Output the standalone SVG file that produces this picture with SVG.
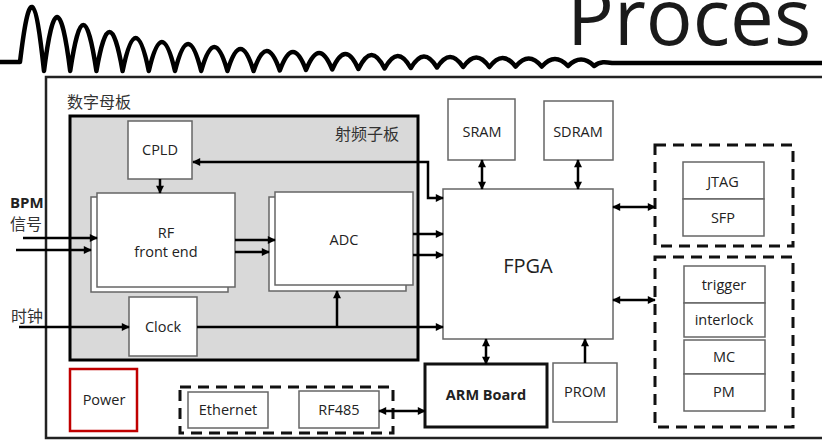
<svg xmlns="http://www.w3.org/2000/svg" width="822" height="440" viewBox="0 0 822 440">
<style>
.box{fill:#fff;stroke:#666;stroke-width:1.5}
.t{font-family:"Open Sans","Liberation Sans",sans-serif;font-size:14.5px;fill:#222;text-anchor:middle}
.b{font-weight:bold}
.cn{font-family:"Noto Sans CJK SC","Noto Sans",sans-serif;font-size:16px;fill:#333}
.dash{fill:none;stroke:#111;stroke-width:3;stroke-dasharray:11 7}
.c{fill:none;stroke:#000;stroke-width:2.5}
</style>
<defs>
<marker id="ah" viewBox="0 0 10 10" refX="9" refY="5" markerWidth="9" markerHeight="8" markerUnits="userSpaceOnUse" orient="auto-start-reverse"><path d="M0,0 L10,5 L0,10 z" fill="#000"/></marker>
</defs>
<rect width="822" height="440" fill="#fff"/>
<g id="header">
<text x="567" y="45" style="font-family:'Open Sans','Liberation Sans',sans-serif;font-size:78px;fill:#1a1a1a">Proces</text>
<path d="M0,62 L20,62 C29,-12.8 35,-12.8 44,71 C53.1,-1 61.1,-1 70.2,71 C79.3,9.7 87.3,9.7 96.4,71 C105.5,19 113.5,19 122.6,71 C131.7,27 139.7,27 148.8,71 C157.9,32.3 165.9,32.3 175,71 C184.1,35 192.1,35 201.2,71 C210.3,39 218.3,39 227.4,71 C236.5,41.7 244.5,41.7 253.6,71 C262.7,44.4 270.7,44.4 279.8,70.5 C288.9,45.9 296.9,45.9 306,70 C315.1,47.4 323.1,47.4 332.2,69.5 C341.3,48.9 349.3,48.9 358.4,69 C367.5,50.4 375.5,50.4 384.6,68.5 C393.7,51.9 401.7,51.9 410.8,68 C419.9,52.7 427.9,52.7 437,67.5 C446.1,53.6 454.1,53.6 463.2,67 C472.3,54.3 480.3,54.3 489.4,67 C498.5,55.1 506.5,55.1 515.6,66.5 C524.7,55.8 532.7,55.8 541.8,66.5 C550.9,56.6 558.9,56.6 568,66 C577.1,57.3 585.1,57.3 594.2,66 C600,61 606,62 612,63 L822,63" fill="none" stroke="#000" stroke-width="4.5" stroke-linejoin="round"/>
</g>
<g id="mainboard">
<rect x="46" y="77" width="800" height="361" fill="none" stroke="#222" stroke-width="2.5"/>
<text class="cn" x="67" y="108">数字母板</text>
</g>
<g id="rfboard">
<rect x="70" y="116" width="348" height="244" fill="#d9d9d9" stroke="#000" stroke-width="3"/>
<text class="cn" x="335" y="140">射频子板</text>
</g>
<g id="cpld">
<rect class="box" x="128" y="121" width="64" height="58"/>
<text class="t" x="160" y="155">CPLD</text>
</g>
<g id="rf">
<rect class="box" x="91" y="197" width="137" height="95"/>
<rect class="box" x="97" y="193" width="138" height="94"/>
<text class="t" x="166" y="238">RF</text>
<text class="t" x="166" y="257">front end</text>
</g>
<g id="adc">
<rect class="box" x="269" y="197" width="137" height="94"/>
<rect class="box" x="275" y="192" width="138" height="93"/>
<text class="t" x="344" y="245">ADC</text>
</g>
<g id="clock">
<rect class="box" x="129" y="297" width="68" height="59"/>
<text class="t" x="163" y="332">Clock</text>
</g>
<g id="fpga">
<rect class="box" x="443" y="189" width="170" height="150"/>
<text class="t" x="528" y="273" style="font-size:20px">FPGA</text>
</g>
<g id="sram">
<rect class="box" x="448" y="99" width="67" height="61"/>
<text class="t" x="482" y="137">SRAM</text>
</g>
<g id="sdram">
<rect class="box" x="544" y="101" width="69" height="59"/>
<text class="t" x="578" y="137">SDRAM</text>
</g>
<g id="io1">
<rect class="dash" x="655" y="145" width="138" height="101"/>
<rect class="box" x="683" y="162" width="81" height="37"/>
<text class="t" x="723" y="187">JTAG</text>
<rect class="box" x="683" y="199" width="81" height="37"/>
<text class="t" x="723" y="223">SFP</text>
</g>
<g id="io2">
<rect class="dash" x="655" y="257" width="138" height="170"/>
<rect class="box" x="684" y="266" width="81" height="37"/>
<text class="t" x="724" y="290">trigger</text>
<rect class="box" x="684" y="303" width="81" height="34"/>
<text class="t" x="724" y="325">interlock</text>
<rect class="box" x="684" y="340" width="81" height="34"/>
<text class="t" x="724" y="362">MC</text>
<rect class="box" x="684" y="374" width="81" height="37"/>
<text class="t" x="724" y="397">PM</text>
</g>
<g id="arm">
<rect x="425" y="364" width="122" height="63" fill="#fff" stroke="#111" stroke-width="3"/>
<text class="t b" x="486" y="400">ARM Board</text>
</g>
<g id="prom">
<rect class="box" x="553" y="363" width="64" height="59"/>
<text class="t" x="585" y="397">PROM</text>
</g>
<g id="power">
<rect x="70" y="369" width="67" height="62" fill="#fff" stroke="#c00000" stroke-width="2.5"/>
<text class="t" x="104" y="405">Power</text>
</g>
<g id="comm">
<rect class="dash" x="180" y="387" width="213" height="46"/>
<rect class="box" x="188" y="392" width="80" height="36"/>
<text class="t" x="228" y="415">Ethernet</text>
<rect class="box" x="299" y="391" width="80" height="37"/>
<text class="t" x="339" y="415">RF485</text>
</g>
<g id="labels">
<text class="t b" x="10" y="208" style="text-anchor:start;font-size:15px">BPM</text>
<text class="cn" x="10" y="230">信号</text>
<text class="cn" x="11" y="322">时钟</text>
</g>
<g id="connectors">
<path class="c" d="M193,162 H428 V198 H443" marker-start="url(#ah)" marker-end="url(#ah)"/>
<path class="c" d="M160,179 V193" marker-end="url(#ah)"/>
<path class="c" d="M23,238 H97" marker-end="url(#ah)"/>
<path class="c" d="M16,250 H91" marker-end="url(#ah)"/>
<path class="c" d="M235,240 H275" marker-end="url(#ah)"/>
<path class="c" d="M235,252 H269" marker-end="url(#ah)"/>
<path class="c" d="M413,234 H443" marker-end="url(#ah)"/>
<path class="c" d="M413,255 H443" marker-end="url(#ah)"/>
<path class="c" d="M19,327 H129" marker-end="url(#ah)"/>
<path class="c" d="M197,327 H443" marker-end="url(#ah)"/>
<path class="c" d="M337,327 V291" marker-end="url(#ah)"/>
<path class="c" d="M482,160 V189" marker-start="url(#ah)" marker-end="url(#ah)"/>
<path class="c" d="M578,160 V189" marker-start="url(#ah)" marker-end="url(#ah)"/>
<path class="c" d="M613,207 H655" marker-start="url(#ah)" marker-end="url(#ah)"/>
<path class="c" d="M613,300 H655" marker-start="url(#ah)" marker-end="url(#ah)"/>
<path class="c" d="M486,339 V364" marker-start="url(#ah)" marker-end="url(#ah)"/>
<path class="c" d="M585,363 V339" marker-end="url(#ah)"/>
<path class="c" d="M379,411 H425" marker-start="url(#ah)" marker-end="url(#ah)"/>
</g>
</svg>
